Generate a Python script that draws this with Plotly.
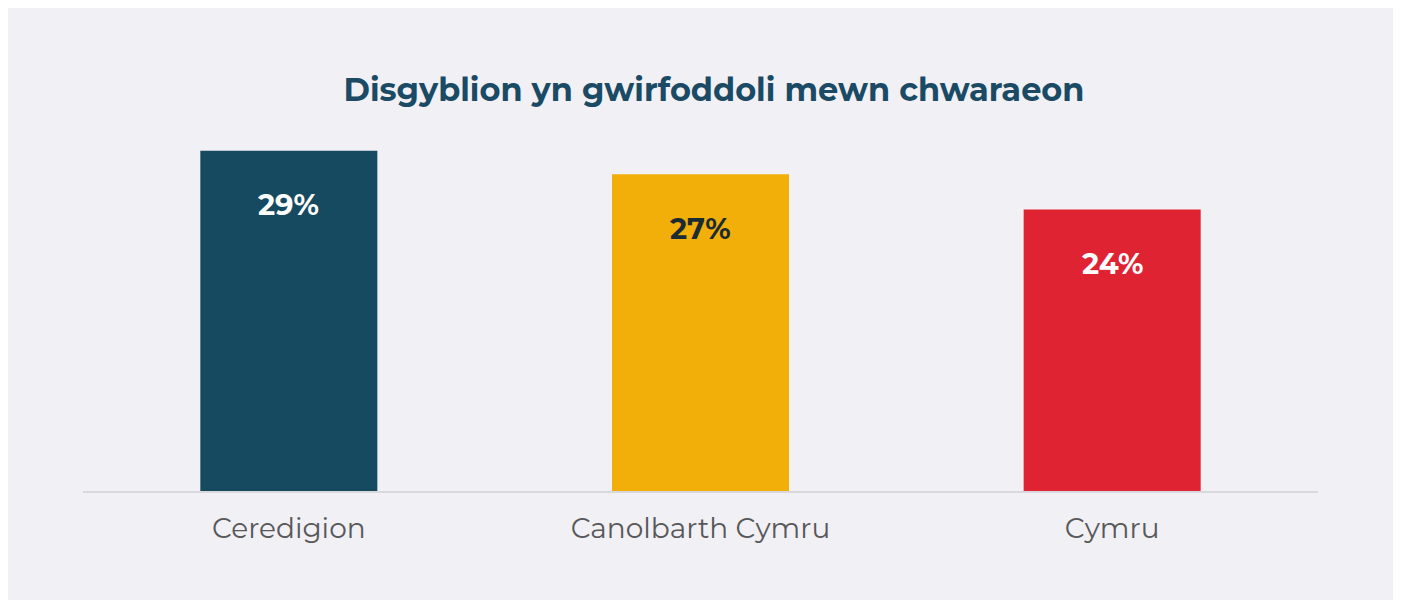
import plotly.graph_objects as go

categories = ["Ceredigion", "Canolbarth Cymru", "Cymru"]
values = [29, 27, 24]
labels = ["29%", "27%", "24%"]
bar_colors = ["#164a60", "#f2ae09", "#e02333"]
label_colors = ["#ffffff", "#1b2b33", "#ffffff"]
title_text = "Disgyblion yn gwirfoddoli mewn chwaraeon"

W, H = 1393, 595
L, R, T, B = 75, 83, 131.4, 112
PW = W - L - R
PH = H - T - B

fig = go.Figure()
fig.add_trace(go.Bar(
    x=categories, y=values, marker=dict(color=bar_colors, line=dict(width=0)),
    width=0.43, hoverinfo="skip",
))
for c, v, t, col in zip(categories, values, labels, label_colors):
    fig.add_annotation(x=c, y=v, text="<b>%s</b>" % t, showarrow=False,
                       yshift=-54, font=dict(family="Montserrat, Lato, sans-serif", size=29, color=col))

fig.add_shape(type="rect", xref="paper", yref="paper",
              x0=(0 - L) / PW, x1=(1386 - L) / PW,
              y0=(T + PH - 592) / PH, y1=(T + PH) / PH,
              fillcolor="#f1f0f5", line=dict(width=0), layer="below")

fig.update_layout(
    width=W, height=H,
    margin=dict(l=L, r=R, t=T, b=B),
    paper_bgcolor="#ffffff", plot_bgcolor="rgba(0,0,0,0)",
    title=dict(text="<b>%s</b>" % title_text, x=(714 - 8) / W, xanchor="center", y=1 - 82 / H, yanchor="middle",
               font=dict(family="Montserrat, Lato, sans-serif", size=32, color="#1a4a64")),
    showlegend=False,
    bargap=0.57,
)
fig.update_xaxes(showline=True, linecolor="#d9d9dd", linewidth=2, ticks="", showgrid=False,
                 tickfont=dict(family="Montserrat, Lato, sans-serif", size=28, color="#58585a"),
                 ticklabelstandoff=11)
fig.update_yaxes(range=[0, 30], visible=False, showgrid=False)

fig.write_html("out.html")
